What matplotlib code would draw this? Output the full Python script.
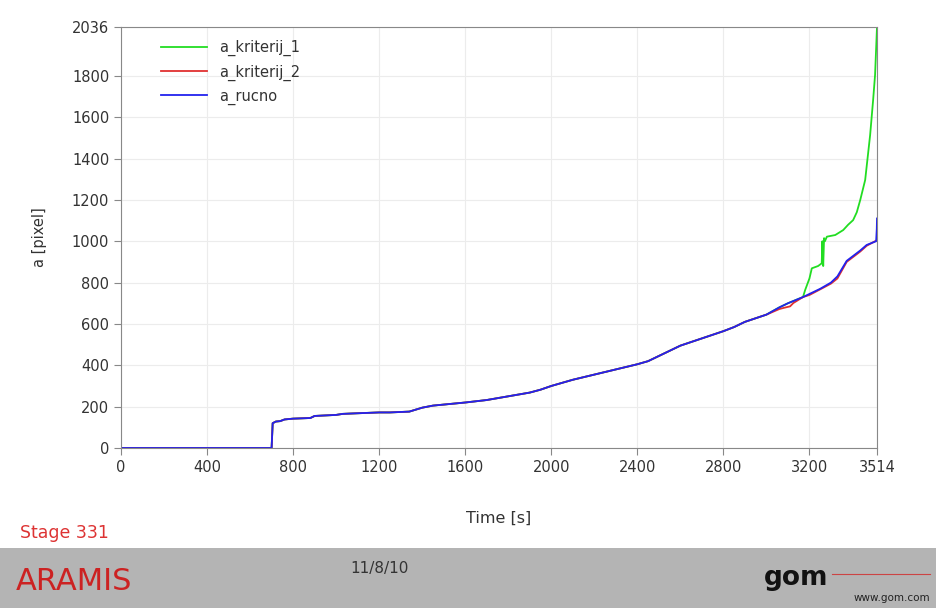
import matplotlib
matplotlib.use("Agg")
import matplotlib.pyplot as plt
from matplotlib.patches import Rectangle
from matplotlib.lines import Line2D

# ---- data ----
t_rucno = [0, 700, 705, 720, 740, 760, 800, 880, 900, 1000, 1030, 1100, 1200, 1250, 1340, 1400,
           1450, 1520, 1600, 1700, 1800, 1900, 1950, 2000, 2100, 2200, 2300, 2400, 2450, 2500,
           2550, 2600, 2700, 2800, 2850, 2900, 3000, 3060, 3100, 3170, 3200, 3250, 3300, 3330,
           3373, 3436, 3466, 3510, 3513, 3514]
a_rucno = [0, 0, 120, 128, 130, 138, 142, 145, 155, 160, 165, 168, 172, 172, 176, 195,
           205, 212, 220, 232, 250, 268, 282, 300, 330, 355, 380, 405, 420, 445,
           470, 495, 530, 565, 585, 610, 645, 680, 700, 730, 745, 770, 800, 830,
           905, 955, 982, 1000, 1060, 1110]

t_krit2 = [0, 700, 705, 720, 740, 760, 800, 880, 900, 1000, 1030, 1100, 1200, 1250, 1340, 1400,
           1450, 1520, 1600, 1700, 1800, 1900, 1950, 2000, 2100, 2200, 2300, 2400, 2450, 2500,
           2550, 2600, 2700, 2800, 2850, 2900, 3000, 3060, 3078, 3110, 3125, 3170, 3200, 3264,
           3300, 3330, 3373, 3436, 3466, 3514]
a_krit2 = [0, 0, 120, 128, 130, 138, 142, 145, 155, 160, 165, 168, 172, 172, 176, 195,
           205, 212, 220, 232, 250, 268, 282, 300, 330, 355, 380, 405, 420, 445,
           470, 495, 530, 565, 585, 610, 645, 672, 677, 685, 701, 730, 740, 775,
           795, 820, 900, 950, 978, 1005]

t_krit1 = [0, 700, 705, 720, 740, 760, 800, 880, 900, 1000, 1030, 1100, 1200, 1250, 1340, 1400,
           1450, 1520, 1600, 1700, 1800, 1900, 1950, 2000, 2100, 2200, 2300, 2400, 2450, 2500,
           2550, 2600, 2700, 2800, 2850, 2900, 3000, 3060, 3100, 3170, 3180, 3200, 3211, 3240,
           3257, 3260, 3264, 3268, 3272, 3281, 3320, 3357, 3380, 3403, 3420, 3436, 3459,
           3482, 3496, 3505, 3514]
a_krit1 = [0, 0, 120, 128, 130, 138, 142, 145, 155, 160, 165, 168, 172, 172, 176, 195,
           205, 212, 220, 232, 250, 268, 282, 300, 330, 355, 380, 405, 420, 445,
           470, 495, 530, 565, 585, 610, 645, 680, 700, 730, 764, 820, 869, 880,
           893, 1000, 880, 1015, 1000, 1022, 1030, 1054, 1080, 1102, 1140, 1199, 1296,
           1513, 1683, 1804, 2036]

xticks = [0, 400, 800, 1200, 1600, 2000, 2400, 2800, 3200, 3514]
yticks = [0, 200, 400, 600, 800, 1000, 1200, 1400, 1600, 1800, 2036]

fig = plt.figure(figsize=(9.36, 6.08), dpi=100)
ax = fig.add_axes([121/936, 1-448/608, (877-121)/936, (448-27)/608])

ax.plot(t_krit1, a_krit1, color="#22dd22", lw=1.3, label="a_kriterij_1")
ax.plot(t_krit2, a_krit2, color="#e03030", lw=1.3, label="a_kriterij_2")
ax.plot(t_rucno, a_rucno, color="#2222ee", lw=1.3, label="a_rucno")

ax.set_xlim(0, 3514)
ax.set_ylim(0, 2036)
ax.set_xticks(xticks)
ax.set_yticks(yticks)
ax.grid(True, color="#ececec", lw=0.8)
for s in ax.spines.values():
    s.set_color("#888888")
ax.tick_params(colors="#333333", labelsize=10.5, length=5, color="#888888")
ax.set_xlabel("Time [s]", fontsize=11.5, color="#333333", labelpad=26)
ax.set_ylabel("a [pixel]", fontsize=10.5, color="#333333", labelpad=18)

leg = ax.legend(loc="upper left", frameon=False, fontsize=10.5, handlelength=3.2,
                bbox_to_anchor=(0.035, 1.0), labelspacing=0.55)
for txt in leg.get_texts():
    txt.set_color("#333333")

# footer band
fig.patches.append(Rectangle((0, 0), 1, 60/608, transform=fig.transFigure,
                             facecolor="#b4b4b4", edgecolor="none", zorder=0))
fig.text(20/936, 1-533/608, "Stage 331", color="#dd3333", fontsize=12.5, va="center")
fig.text(16/936, 1-581/608, "ARAMIS", color="#cc2222", fontsize=22, va="center")
fig.text(350/936, 1-569/608, "11/8/10", color="#333333", fontsize=11, va="center")
fig.text(764/936, 1-578/608, "gom", color="#111111", fontsize=19, va="center", fontweight="bold")
fig.lines.append(Line2D([832/936, 930/936], [1-574/608, 1-574/608], transform=fig.transFigure,
                        color="#cc4444", lw=0.8))
fig.text(930/936, 1-598/608, "www.gom.com", color="#222222", fontsize=7.5, va="center", ha="right")

fig.savefig("out.png", dpi=100)
